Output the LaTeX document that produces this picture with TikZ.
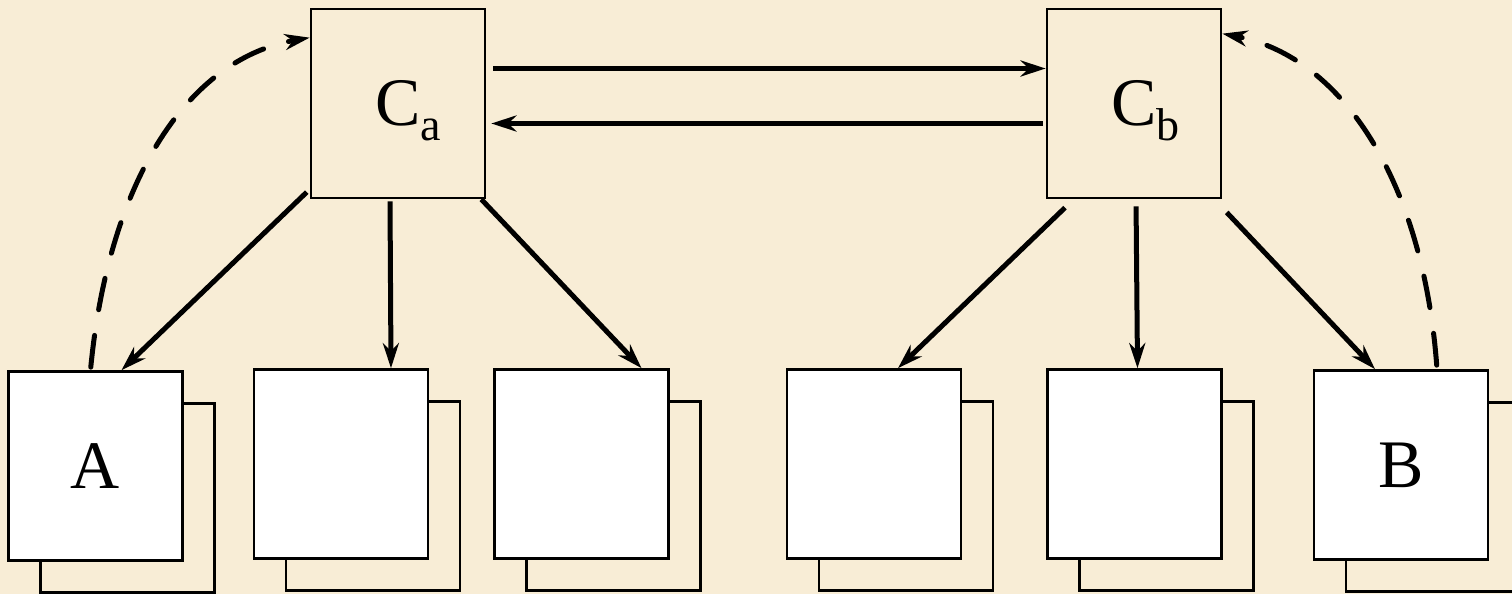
\documentclass[tikz,border=0pt]{standalone}
\usepackage{fontspec}
\setmainfont{Liberation Serif}
\usetikzlibrary{arrows.meta}
\definecolor{paper}{RGB}{248,237,214}
\newcommand\lowsub[1]{\rlap{\raisebox{-15pt}[0pt][0pt]{\fontsize{46}{46}\selectfont #1}}}

\tikzset{
  cbox/.style={draw, line width=2.7pt, minimum width=174pt, minimum height=189pt,
    inner sep=0pt, fill=paper},
  frontbox/.style={cbox, fill=white},
  backbox/.style={cbox},
  link/.style={->, line width=5pt},
  dashlink/.style={link, dash pattern=on 32pt off 26pt, line cap=round}
}

\begin{document}
\begin{tikzpicture}[x=1pt, y=-1pt,
    >={Stealth[length=25pt,width=16pt,inset=8pt]},
    font=\fontsize{68}{80}\selectfont]
    \fill[paper] (0,0) rectangle (1512,594);
    \useasboundingbox (0,0) rectangle (1512,594);
    % controllers
    \node[cbox] (Ca) at (398,103.5) {C\lowsub{a}};
    \node[cbox] (Cb) at (1134,103.5) {C\lowsub{b}};
    % stacked boxes
    \foreach \n/\x/\y/\t in {a1/95.5/466/A, a2/341/464/{}, a3/581.5/464/{},
                             b1/874/464/{}, b2/1134.5/464/{}, b3/1401/465/B} {
      \node[backbox] (\n-back) at (\x+32,\y+32) {};
      \node[frontbox] (\n) at (\x,\y) {\t};
    }
    % between controllers
    \draw[link, shorten <=7pt] ([yshift=35pt]Ca.east) -- ([yshift=35pt]Cb.west);
    \draw[link, shorten <=3pt, shorten >=5pt] ([yshift=-20pt]Cb.west) -- ([yshift=-20pt]Ca.east);
    % down to the boxes
    \draw[link, shorten <=4pt] ([yshift=10pt]Ca.south west) -- ([xshift=26pt]a1.north);
    \draw[link, shorten <=2pt] ([xshift=-8pt]Ca.south) -- ([xshift=50pt]a2.north);
    \draw[link] ([xshift=-5pt]Ca.south east) -- ([xshift=60pt]a3.north);
    \draw[link, shorten <=12pt] ([xshift=28pt]Cb.south west) -- ([xshift=24pt]b1.north);
    \draw[link, shorten <=7pt] ([xshift=2pt]Cb.south) -- ([xshift=3pt]b2.north);
    \draw[link, shorten <=18pt] ([xshift=-8pt]Cb.south east) -- ([xshift=-26pt]b3.north);
    % dashed feedback
    \draw[dashlink, shorten <=3pt] ([xshift=-5pt]a1.north)
      .. controls +(18,-185) and +(-125,22) .. ([yshift=-30pt]Ca.north west);
    \draw[dashlink, shorten <=4pt] ([xshift=36pt]b3.north)
      .. controls +(-14,-185) and +(122,24) .. ([yshift=-26pt]Cb.north east);
\end{tikzpicture}
\end{document}
